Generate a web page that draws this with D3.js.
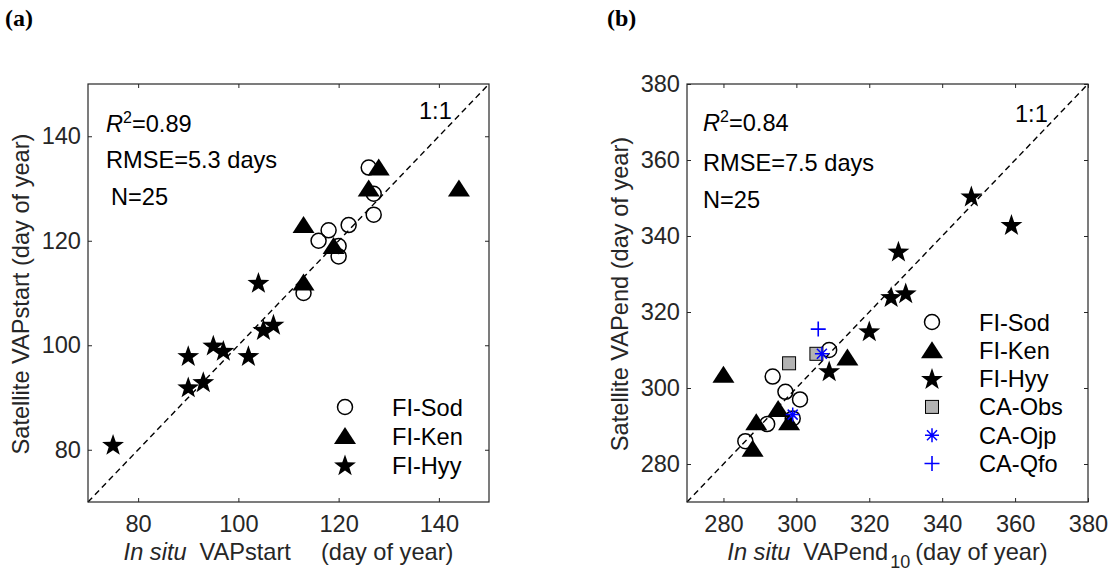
<!DOCTYPE html>
<html>
<head>
<meta charset="utf-8">
<script src="https://cdn.jsdelivr.net/npm/d3@7"></script>
<style>
  body { margin: 0; background: #fff; }
  svg { display: block; font-family: "Liberation Sans", Arial, sans-serif; }
</style>
</head>
<body>
<svg id="svg" width="1111" height="573"></svg>
<script>
// panel (a): VAPstart
var sodStartX = [126, 127, 127, 122, 118, 116, 120, 120, 113];
var sodStartY = [134, 129, 125, 123, 122, 120, 119, 117, 110];
var kenStartX = [128, 126, 144, 113, 119, 113];
var kenStartY = [134, 130, 130, 123, 119, 112];
var hyyStartX = [75, 90, 90, 93, 95, 97, 102, 104, 105, 107];
var hyyStartY = [81, 98, 92, 93, 100, 99, 98, 112, 103, 104];
var startTicks = [80, 100, 120, 140];

// panel (b): VAPend
var sodEndX = [309, 293.5, 297, 301, 299, 292, 286];
var sodEndY = [310, 303, 299, 297, 292, 290.5, 286];
var kenEndX = [314, 280, 295, 289, 298, 288];
var kenEndY = [308, 303.5, 294.5, 291, 291, 284];
var hyyEndX = [348, 359, 328, 330, 326, 320, 309];
var hyyEndY = [350.5, 343, 336, 325, 324, 315, 304.5];
var obsEndX = [298, 305.5];
var obsEndY = [306.5, 309];
var ojpEndX = [307, 299];
var ojpEndY = [309, 293];
var qfoEndX = [306];
var qfoEndY = [315.5];
var endTicks = [280, 300, 320, 340, 360, 380];

var svg = d3.select("#svg");
var axisColor = "#262626";
var fs = "23.6px";

// marker drawing, all centred on 0,0
function drawMarker(g, type) {
  if (type == "circle") {
    g.append("circle").attr("r", 7.5).attr("fill", "none")
      .attr("stroke", "#000").attr("stroke-width", 1.5);
  } else if (type == "triangle") {
    g.append("path").attr("d", "M0,-9 L11,8 L-11,8 Z").attr("fill", "#000");
  } else if (type == "star") {
    var pts = [];
    for (var i = 0; i < 10; i++) {
      var r = i % 2 == 0 ? 11.5 : 4.6;
      var a = -Math.PI / 2 + i * Math.PI / 5;
      pts.push([r * Math.cos(a), r * Math.sin(a) + 1]);
    }
    g.append("path").attr("d", "M" + pts.join("L") + "Z").attr("fill", "#000");
  } else if (type == "square") {
    g.append("rect").attr("x", -6.5).attr("y", -6.5).attr("width", 13).attr("height", 13)
      .attr("fill", "#b3b3b3").attr("stroke", "#000").attr("stroke-width", 1);
  } else if (type == "asterisk") {
    var s = 7, d = 5;
    g.append("path")
      .attr("d", `M0,${-s}V${s}M${-s},0H${s}M${-d},${-d}L${d},${d}M${-d},${d}L${d},${-d}`)
      .attr("stroke", "#0000ff").attr("stroke-width", 1.5).attr("fill", "none");
  } else if (type == "plus") {
    g.append("path").attr("d", "M0,-7.5V7.5M-7.5,0H7.5")
      .attr("stroke", "#0000ff").attr("stroke-width", 1.6).attr("fill", "none");
  }
}

function drawPanel(cfg) {
  var x = d3.scaleLinear().domain(cfg.domain).range([cfg.left, cfg.right]);
  var y = d3.scaleLinear().domain(cfg.domain).range([cfg.bottom, cfg.top]);
  var g = svg.append("g");

  // 1:1 line
  g.append("line")
    .attr("x1", x(cfg.domain[0])).attr("y1", y(cfg.domain[0]))
    .attr("x2", x(cfg.domain[1])).attr("y2", y(cfg.domain[1]))
    .attr("stroke", "#000").attr("stroke-width", 1.4)
    .attr("stroke-dasharray", "6,4");

  // points
  cfg.series.forEach(function (s) {
    s.xs.forEach(function (v, i) {
      var m = g.append("g").attr("transform", `translate(${x(v)},${y(s.ys[i])})`);
      drawMarker(m, s.marker);
    });
  });

  // axes, ticks pointing inward
  var bottom = g.append("g")
    .attr("transform", `translate(0,${cfg.bottom})`)
    .call(d3.axisBottom(x).tickValues(cfg.ticks).tickSize(-4).tickPadding(13));
  var left = g.append("g")
    .attr("transform", `translate(${cfg.left},0)`)
    .call(d3.axisLeft(y).tickValues(cfg.ticks).tickSize(-4).tickPadding(7));
  var top = g.append("g")
    .attr("transform", `translate(0,${cfg.top})`)
    .call(d3.axisTop(x).tickValues(cfg.ticks).tickSize(-4).tickFormat(""));
  var right = g.append("g")
    .attr("transform", `translate(${cfg.right},0)`)
    .call(d3.axisRight(y).tickValues(cfg.ticks).tickSize(-4).tickFormat(""));

  [bottom, left, top, right].forEach(function (a) {
    a.select(".domain").remove();
    a.selectAll("line").attr("stroke", axisColor);
    a.selectAll("text").attr("fill", axisColor)
      .style("font-size", fs).style("font-family", "Liberation Sans, Arial, sans-serif");
  });

  g.append("rect")
    .attr("x", cfg.left).attr("y", cfg.top)
    .attr("width", cfg.right - cfg.left).attr("height", cfg.bottom - cfg.top)
    .attr("fill", "none").attr("stroke", axisColor).attr("stroke-width", 1.2);

  // stats text
  var t = g.append("text").attr("x", cfg.statsX).attr("y", cfg.statsY[0])
    .style("font-size", fs);
  t.append("tspan").style("font-style", "italic").text("R");
  t.append("tspan").attr("dy", -9).style("font-size", "16px").text("2");
  t.append("tspan").attr("dy", 9).text(cfg.r2);
  g.append("text").attr("x", cfg.statsX).attr("y", cfg.statsY[1])
    .style("font-size", fs).text(cfg.rmse);
  g.append("text").attr("x", cfg.statsX + cfg.nShift).attr("y", cfg.statsY[2])
    .style("font-size", fs).text("N=25");
  g.append("text").attr("x", cfg.oneX).attr("y", cfg.oneY)
    .style("font-size", fs).text("1:1");

  // legend
  cfg.series.forEach(function (s, i) {
    var ly = cfg.legendY + i * cfg.legendStep;
    var m = g.append("g").attr("transform", `translate(${cfg.legendX},${ly})`);
    drawMarker(m, s.marker);
    g.append("text").attr("x", cfg.legendX + 47).attr("y", ly + 8.5)
      .style("font-size", fs).text(s.name);
  });

  // y label
  g.append("text")
    .attr("transform", `translate(${cfg.ylabelX},${(cfg.top + cfg.bottom) / 2 + 1}) rotate(-90)`)
    .style("text-anchor", "middle").style("font-size", fs).attr("fill", axisColor)
    .text(cfg.ylabel);

  // x label
  var xl = g.append("text")
    .attr("x", (cfg.left + cfg.right) / 2).attr("y", 560)
    .style("text-anchor", "middle").style("font-size", fs).attr("fill", axisColor);
  xl.append("tspan").style("font-style", "italic").text("In situ");
  xl.append("tspan").attr("dx", 13).text(cfg.xvar);
  if (cfg.sub) {
    xl.append("tspan").attr("dx", 2).attr("dy", 8).style("font-size", "18px").text(cfg.sub);
    xl.append("tspan").attr("dx", 5).attr("dy", -8).text("(day of year)");
  } else {
    xl.append("tspan").attr("dx", 30).text("(day of year)");
  }

  // panel letter
  svg.append("text").attr("x", cfg.letterX).attr("y", 26)
    .style("font-family", "Liberation Serif, Times New Roman, serif")
    .style("font-weight", "bold").style("font-size", "24px")
    .text(cfg.letter);
}

drawPanel({
  domain: [70, 150], ticks: startTicks,
  left: 88, right: 489, top: 84, bottom: 502,
  series: [
    { name: "FI-Sod", marker: "circle", xs: sodStartX, ys: sodStartY },
    { name: "FI-Ken", marker: "triangle", xs: kenStartX, ys: kenStartY },
    { name: "FI-Hyy", marker: "star", xs: hyyStartX, ys: hyyStartY }
  ],
  statsX: 106, statsY: [132, 168, 205], nShift: 5,
  r2: "=0.89", rmse: "RMSE=5.3 days",
  oneX: 419, oneY: 119,
  legendX: 345, legendY: 407, legendStep: 29,
  ylabelX: 29, ylabel: "Satellite VAPstart (day of year)",
  xvar: "VAPstart", letter: "(a)", letterX: 5
});

drawPanel({
  domain: [270, 380], ticks: endTicks,
  left: 687, right: 1088, top: 84, bottom: 502,
  series: [
    { name: "FI-Sod", marker: "circle", xs: sodEndX, ys: sodEndY },
    { name: "FI-Ken", marker: "triangle", xs: kenEndX, ys: kenEndY },
    { name: "FI-Hyy", marker: "star", xs: hyyEndX, ys: hyyEndY },
    { name: "CA-Obs", marker: "square", xs: obsEndX, ys: obsEndY },
    { name: "CA-Ojp", marker: "asterisk", xs: ojpEndX, ys: ojpEndY },
    { name: "CA-Qfo", marker: "plus", xs: qfoEndX, ys: qfoEndY }
  ],
  statsX: 703, statsY: [131, 171, 208], nShift: 0,
  r2: "=0.84", rmse: "RMSE=7.5 days",
  oneX: 1015, oneY: 122,
  legendX: 932, legendY: 322, legendStep: 28.3,
  ylabelX: 628, ylabel: "Satellite VAPend (day of year)",
  xvar: "VAPend", sub: "10", letter: "(b)", letterX: 607
});
</script>
</body>
</html>
